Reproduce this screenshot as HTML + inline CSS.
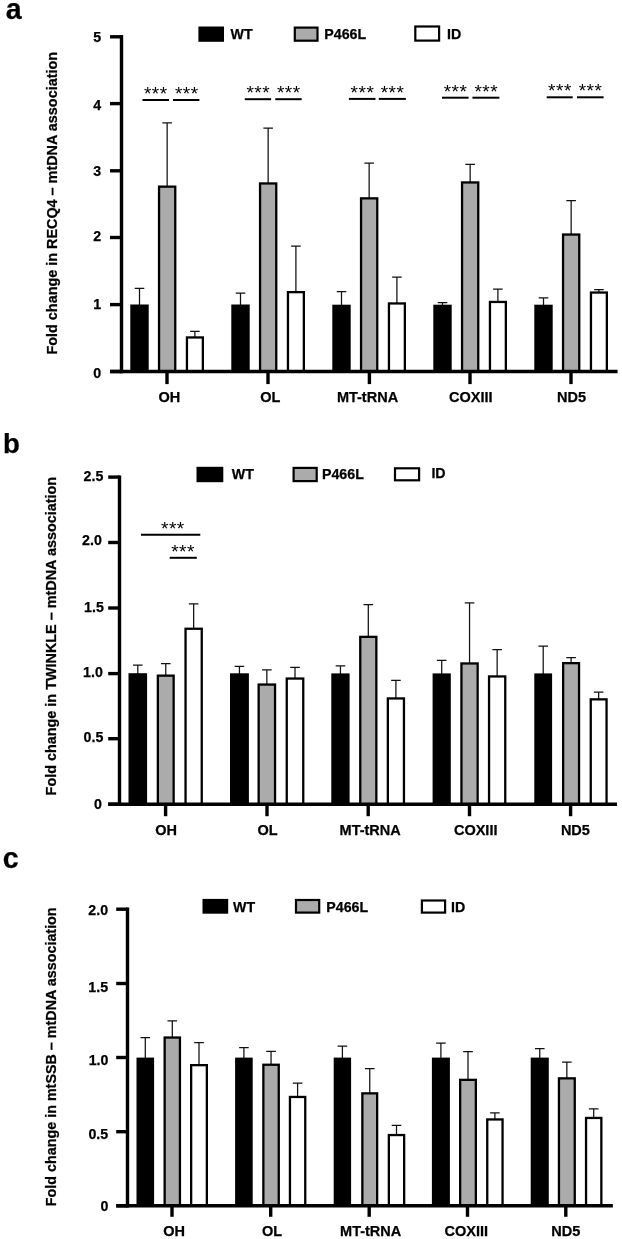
<!DOCTYPE html>
<html><head><meta charset="utf-8"><title>Figure</title>
<style>
html,body{margin:0;padding:0;background:#fff;}
svg{display:block;will-change:transform;}
text{font-family:"Liberation Sans",sans-serif;fill:#000;}
</style></head>
<body>
<svg width="622" height="1239" viewBox="0 0 622 1239">
<rect width="622" height="1239" fill="#fff"/>
<path d="M139.50 305.50V288.30M134.70 288.30H144.30" stroke="#111" stroke-width="1.25" fill="none"/>
<rect x="131.45" y="305.65" width="16.10" height="65.85" fill="#000" stroke="#000" stroke-width="2.3"/>
<path d="M167.15 186.50V122.90M162.35 122.90H171.95" stroke="#111" stroke-width="1.25" fill="none"/>
<rect x="159.05" y="186.65" width="16.20" height="184.85" fill="#ababab" stroke="#000" stroke-width="2.3"/>
<path d="M194.90 337.30V331.30M190.10 331.30H199.70" stroke="#111" stroke-width="1.25" fill="none"/>
<rect x="186.95" y="337.45" width="15.90" height="34.05" fill="#fff" stroke="#000" stroke-width="2.3"/>
<path d="M240.50 305.50V293.20M235.70 293.20H245.30" stroke="#111" stroke-width="1.25" fill="none"/>
<rect x="232.45" y="305.65" width="16.10" height="65.85" fill="#000" stroke="#000" stroke-width="2.3"/>
<path d="M268.15 183.30V128.20M263.35 128.20H272.95" stroke="#111" stroke-width="1.25" fill="none"/>
<rect x="260.05" y="183.45" width="16.20" height="188.05" fill="#ababab" stroke="#000" stroke-width="2.3"/>
<path d="M295.90 292.00V246.00M291.10 246.00H300.70" stroke="#111" stroke-width="1.25" fill="none"/>
<rect x="287.95" y="292.15" width="15.90" height="79.35" fill="#fff" stroke="#000" stroke-width="2.3"/>
<path d="M341.50 305.70V291.60M336.70 291.60H346.30" stroke="#111" stroke-width="1.25" fill="none"/>
<rect x="333.45" y="305.85" width="16.10" height="65.65" fill="#000" stroke="#000" stroke-width="2.3"/>
<path d="M369.15 198.20V163.00M364.35 163.00H373.95" stroke="#111" stroke-width="1.25" fill="none"/>
<rect x="361.05" y="198.35" width="16.20" height="173.15" fill="#ababab" stroke="#000" stroke-width="2.3"/>
<path d="M396.90 303.30V277.20M392.10 277.20H401.70" stroke="#111" stroke-width="1.25" fill="none"/>
<rect x="388.95" y="303.45" width="15.90" height="68.05" fill="#fff" stroke="#000" stroke-width="2.3"/>
<path d="M442.50 305.70V302.70M437.70 302.70H447.30" stroke="#111" stroke-width="1.25" fill="none"/>
<rect x="434.45" y="305.85" width="16.10" height="65.65" fill="#000" stroke="#000" stroke-width="2.3"/>
<path d="M470.15 182.30V164.40M465.35 164.40H474.95" stroke="#111" stroke-width="1.25" fill="none"/>
<rect x="462.05" y="182.45" width="16.20" height="189.05" fill="#ababab" stroke="#000" stroke-width="2.3"/>
<path d="M497.90 301.80V289.20M493.10 289.20H502.70" stroke="#111" stroke-width="1.25" fill="none"/>
<rect x="489.95" y="301.95" width="15.90" height="69.55" fill="#fff" stroke="#000" stroke-width="2.3"/>
<path d="M543.50 305.70V297.90M538.70 297.90H548.30" stroke="#111" stroke-width="1.25" fill="none"/>
<rect x="535.45" y="305.85" width="16.10" height="65.65" fill="#000" stroke="#000" stroke-width="2.3"/>
<path d="M571.15 234.40V200.50M566.35 200.50H575.95" stroke="#111" stroke-width="1.25" fill="none"/>
<rect x="563.05" y="234.55" width="16.20" height="136.95" fill="#ababab" stroke="#000" stroke-width="2.3"/>
<path d="M598.90 292.40V289.60M594.10 289.60H603.70" stroke="#111" stroke-width="1.25" fill="none"/>
<rect x="590.95" y="292.55" width="15.90" height="78.95" fill="#fff" stroke="#000" stroke-width="2.3"/>
<path d="M121.50 35.10V373.20" stroke="#000" stroke-width="3.4" fill="none"/>
<path d="M110.00 371.50H617.60" stroke="#000" stroke-width="3.4" fill="none"/>
<path d="M110.00 36.80H121.50" stroke="#000" stroke-width="3.4" fill="none"/>
<text x="101.20" y="42.40" font-size="14.2" font-weight="bold" text-anchor="end" stroke="#000" stroke-width="0.25" >5</text>
<path d="M110.00 103.60H121.50" stroke="#000" stroke-width="3.4" fill="none"/>
<text x="101.20" y="109.70" font-size="14.2" font-weight="bold" text-anchor="end" stroke="#000" stroke-width="0.25" >4</text>
<path d="M110.00 170.80H121.50" stroke="#000" stroke-width="3.4" fill="none"/>
<text x="101.20" y="175.70" font-size="14.2" font-weight="bold" text-anchor="end" stroke="#000" stroke-width="0.25" >3</text>
<path d="M110.00 237.50H121.50" stroke="#000" stroke-width="3.4" fill="none"/>
<text x="101.20" y="240.90" font-size="14.2" font-weight="bold" text-anchor="end" stroke="#000" stroke-width="0.25" >2</text>
<path d="M110.00 304.60H121.50" stroke="#000" stroke-width="3.4" fill="none"/>
<text x="101.20" y="309.30" font-size="14.2" font-weight="bold" text-anchor="end" stroke="#000" stroke-width="0.25" >1</text>
<path d="M110.00 371.50H121.50" stroke="#000" stroke-width="3.4" fill="none"/>
<text x="101.20" y="378.30" font-size="14.2" font-weight="bold" text-anchor="end" stroke="#000" stroke-width="0.25" >0</text>
<path d="M167.00 371.50V384.10" stroke="#000" stroke-width="3.4" fill="none"/>
<text x="169.30" y="402.00" font-size="14.5" font-weight="bold" text-anchor="middle" stroke="#000" stroke-width="0.25" >OH</text>
<path d="M268.00 371.50V384.10" stroke="#000" stroke-width="3.4" fill="none"/>
<text x="270.40" y="402.00" font-size="14.5" font-weight="bold" text-anchor="middle" stroke="#000" stroke-width="0.25" >OL</text>
<path d="M369.40 371.50V384.10" stroke="#000" stroke-width="3.4" fill="none"/>
<text x="367.50" y="402.00" font-size="14.5" font-weight="bold" text-anchor="middle" stroke="#000" stroke-width="0.25" >MT-tRNA</text>
<path d="M470.00 371.50V384.10" stroke="#000" stroke-width="3.4" fill="none"/>
<text x="470.80" y="402.00" font-size="14.5" font-weight="bold" text-anchor="middle" stroke="#000" stroke-width="0.25" >COXIII</text>
<path d="M571.00 371.50V384.10" stroke="#000" stroke-width="3.4" fill="none"/>
<text x="571.50" y="402.00" font-size="14.5" font-weight="bold" text-anchor="middle" stroke="#000" stroke-width="0.25" >ND5</text>
<text transform="translate(57.10,354.50) rotate(-90)" font-size="14.4" font-weight="bold" stroke="#000" stroke-width="0.25" text-anchor="start">Fold change in RECQ4 – mtDNA association</text>
<rect x="198.40" y="26.50" width="25.60" height="15.30" fill="#000"/>
<text x="230.50" y="39.30" font-size="14.2" font-weight="bold" text-anchor="start" stroke="#000" stroke-width="0.25" >WT</text>
<rect x="294.80" y="27.60" width="22.70" height="13.10" fill="#ababab" stroke="#000" stroke-width="2.2"/>
<text x="324.30" y="39.30" font-size="14.2" font-weight="bold" text-anchor="start" stroke="#000" stroke-width="0.25" >P466L</text>
<rect x="415.30" y="26.50" width="23.80" height="14.10" fill="#fff" stroke="#000" stroke-width="2.2"/>
<text x="447.00" y="39.30" font-size="14.2" font-weight="bold" text-anchor="start" stroke="#000" stroke-width="0.25" >ID</text>
<path d="M142.50 100.00H169.00" stroke="#000" stroke-width="2.0" fill="none"/>
<text x="155.75" y="99.90" font-size="19" font-weight="normal" text-anchor="middle" letter-spacing="0.5">***</text>
<path d="M173.00 100.00H199.40" stroke="#000" stroke-width="2.0" fill="none"/>
<text x="186.75" y="99.90" font-size="19" font-weight="normal" text-anchor="middle" letter-spacing="0.5">***</text>
<path d="M244.80 99.20H271.10" stroke="#000" stroke-width="2.0" fill="none"/>
<text x="258.25" y="99.10" font-size="19" font-weight="normal" text-anchor="middle" letter-spacing="0.5">***</text>
<path d="M275.30 99.20H301.70" stroke="#000" stroke-width="2.0" fill="none"/>
<text x="288.75" y="99.10" font-size="19" font-weight="normal" text-anchor="middle" letter-spacing="0.5">***</text>
<path d="M348.90 98.90H375.50" stroke="#000" stroke-width="2.0" fill="none"/>
<text x="362.45" y="98.80" font-size="19" font-weight="normal" text-anchor="middle" letter-spacing="0.5">***</text>
<path d="M378.80 98.90H405.90" stroke="#000" stroke-width="2.0" fill="none"/>
<text x="392.55" y="98.80" font-size="19" font-weight="normal" text-anchor="middle" letter-spacing="0.5">***</text>
<path d="M442.00 97.70H468.60" stroke="#000" stroke-width="2.0" fill="none"/>
<text x="455.55" y="97.60" font-size="19" font-weight="normal" text-anchor="middle" letter-spacing="0.5">***</text>
<path d="M472.40 97.70H499.40" stroke="#000" stroke-width="2.0" fill="none"/>
<text x="486.25" y="97.60" font-size="19" font-weight="normal" text-anchor="middle" letter-spacing="0.5">***</text>
<path d="M546.70 97.30H572.70" stroke="#000" stroke-width="2.0" fill="none"/>
<text x="559.95" y="97.20" font-size="19" font-weight="normal" text-anchor="middle" letter-spacing="0.5">***</text>
<path d="M577.00 97.30H603.60" stroke="#000" stroke-width="2.0" fill="none"/>
<text x="590.55" y="97.20" font-size="19" font-weight="normal" text-anchor="middle" letter-spacing="0.5">***</text>
<text x="5.80" y="18.80" font-size="28.6" font-weight="bold" text-anchor="start" stroke="#000" stroke-width="0.25" >a</text>
<path d="M137.80 674.20V665.00M133.00 665.00H142.60" stroke="#111" stroke-width="1.25" fill="none"/>
<rect x="129.65" y="674.35" width="16.30" height="129.85" fill="#000" stroke="#000" stroke-width="2.3"/>
<path d="M165.75 675.50V663.70M160.95 663.70H170.55" stroke="#111" stroke-width="1.25" fill="none"/>
<rect x="157.85" y="675.65" width="15.80" height="128.55" fill="#ababab" stroke="#000" stroke-width="2.3"/>
<path d="M193.65 628.60V603.90M188.85 603.90H198.45" stroke="#111" stroke-width="1.25" fill="none"/>
<rect x="185.55" y="628.75" width="16.20" height="175.45" fill="#fff" stroke="#000" stroke-width="2.3"/>
<path d="M239.45 674.30V666.30M234.65 666.30H244.25" stroke="#111" stroke-width="1.25" fill="none"/>
<rect x="231.15" y="674.45" width="16.60" height="129.75" fill="#000" stroke="#000" stroke-width="2.3"/>
<path d="M266.85 684.40V669.80M262.05 669.80H271.65" stroke="#111" stroke-width="1.25" fill="none"/>
<rect x="258.65" y="684.55" width="16.40" height="119.65" fill="#ababab" stroke="#000" stroke-width="2.3"/>
<path d="M295.00 678.40V667.30M290.20 667.30H299.80" stroke="#111" stroke-width="1.25" fill="none"/>
<rect x="286.75" y="678.55" width="16.50" height="125.65" fill="#fff" stroke="#000" stroke-width="2.3"/>
<path d="M340.45 674.40V665.80M335.65 665.80H345.25" stroke="#111" stroke-width="1.25" fill="none"/>
<rect x="332.45" y="674.55" width="16.00" height="129.65" fill="#000" stroke="#000" stroke-width="2.3"/>
<path d="M368.30 636.70V604.60M363.50 604.60H373.10" stroke="#111" stroke-width="1.25" fill="none"/>
<rect x="360.25" y="636.85" width="16.10" height="167.35" fill="#ababab" stroke="#000" stroke-width="2.3"/>
<path d="M395.90 698.30V680.30M391.10 680.30H400.70" stroke="#111" stroke-width="1.25" fill="none"/>
<rect x="387.85" y="698.45" width="16.10" height="105.75" fill="#fff" stroke="#000" stroke-width="2.3"/>
<path d="M441.70 674.40V660.30M436.90 660.30H446.50" stroke="#111" stroke-width="1.25" fill="none"/>
<rect x="433.75" y="674.55" width="15.90" height="129.65" fill="#000" stroke="#000" stroke-width="2.3"/>
<path d="M469.55 663.30V602.80M464.75 602.80H474.35" stroke="#111" stroke-width="1.25" fill="none"/>
<rect x="461.45" y="663.45" width="16.20" height="140.75" fill="#ababab" stroke="#000" stroke-width="2.3"/>
<path d="M497.15 676.30V649.70M492.35 649.70H501.95" stroke="#111" stroke-width="1.25" fill="none"/>
<rect x="489.05" y="676.45" width="16.20" height="127.75" fill="#fff" stroke="#000" stroke-width="2.3"/>
<path d="M543.20 674.40V646.20M538.40 646.20H548.00" stroke="#111" stroke-width="1.25" fill="none"/>
<rect x="535.45" y="674.55" width="15.50" height="129.65" fill="#000" stroke="#000" stroke-width="2.3"/>
<path d="M571.10 663.00V657.50M566.30 657.50H575.90" stroke="#111" stroke-width="1.25" fill="none"/>
<rect x="563.15" y="663.15" width="15.90" height="141.05" fill="#ababab" stroke="#000" stroke-width="2.3"/>
<path d="M598.65 699.20V692.10M593.85 692.10H603.45" stroke="#111" stroke-width="1.25" fill="none"/>
<rect x="590.75" y="699.35" width="15.80" height="104.85" fill="#fff" stroke="#000" stroke-width="2.3"/>
<path d="M119.50 475.40V805.90" stroke="#000" stroke-width="3.4" fill="none"/>
<path d="M108.20 804.20H617.00" stroke="#000" stroke-width="3.4" fill="none"/>
<path d="M108.20 477.10H119.50" stroke="#000" stroke-width="3.4" fill="none"/>
<text x="103.30" y="480.70" font-size="14.2" font-weight="bold" text-anchor="end" stroke="#000" stroke-width="0.25" >2.5</text>
<path d="M108.20 542.50H119.50" stroke="#000" stroke-width="3.4" fill="none"/>
<text x="101.80" y="544.90" font-size="14.2" font-weight="bold" text-anchor="end" stroke="#000" stroke-width="0.25" >2.0</text>
<path d="M108.20 608.00H119.50" stroke="#000" stroke-width="3.4" fill="none"/>
<text x="103.80" y="612.40" font-size="14.2" font-weight="bold" text-anchor="end" stroke="#000" stroke-width="0.25" >1.5</text>
<path d="M108.20 673.60H119.50" stroke="#000" stroke-width="3.4" fill="none"/>
<text x="102.80" y="676.80" font-size="14.2" font-weight="bold" text-anchor="end" stroke="#000" stroke-width="0.25" >1.0</text>
<path d="M108.20 738.70H119.50" stroke="#000" stroke-width="3.4" fill="none"/>
<text x="103.30" y="741.60" font-size="14.2" font-weight="bold" text-anchor="end" stroke="#000" stroke-width="0.25" >0.5</text>
<path d="M108.20 804.20H119.50" stroke="#000" stroke-width="3.4" fill="none"/>
<text x="101.80" y="808.70" font-size="14.2" font-weight="bold" text-anchor="end" stroke="#000" stroke-width="0.25" >0</text>
<path d="M165.60 804.20V816.20" stroke="#000" stroke-width="3.4" fill="none"/>
<text x="166.00" y="835.40" font-size="14.5" font-weight="bold" text-anchor="middle" stroke="#000" stroke-width="0.25" >OH</text>
<path d="M267.00 804.20V816.20" stroke="#000" stroke-width="3.4" fill="none"/>
<text x="267.50" y="835.40" font-size="14.5" font-weight="bold" text-anchor="middle" stroke="#000" stroke-width="0.25" >OL</text>
<path d="M368.20 804.20V816.20" stroke="#000" stroke-width="3.4" fill="none"/>
<text x="370.20" y="835.40" font-size="14.5" font-weight="bold" text-anchor="middle" stroke="#000" stroke-width="0.25" >MT-tRNA</text>
<path d="M469.50 804.20V816.20" stroke="#000" stroke-width="3.4" fill="none"/>
<text x="475.70" y="835.40" font-size="14.5" font-weight="bold" text-anchor="middle" stroke="#000" stroke-width="0.25" >COXIII</text>
<path d="M570.60 804.20V816.20" stroke="#000" stroke-width="3.4" fill="none"/>
<text x="575.40" y="835.40" font-size="14.5" font-weight="bold" text-anchor="middle" stroke="#000" stroke-width="0.25" >ND5</text>
<text transform="translate(55.60,795.40) rotate(-90)" font-size="14.4" font-weight="bold" stroke="#000" stroke-width="0.25" text-anchor="start">Fold change in TWINKLE – mtDNA association</text>
<rect x="196.50" y="466.80" width="26.80" height="15.40" fill="#000"/>
<text x="231.80" y="478.80" font-size="14.2" font-weight="bold" text-anchor="start" stroke="#000" stroke-width="0.25" >WT</text>
<rect x="293.60" y="467.90" width="23.10" height="13.20" fill="#ababab" stroke="#000" stroke-width="2.2"/>
<text x="322.00" y="478.80" font-size="14.2" font-weight="bold" text-anchor="start" stroke="#000" stroke-width="0.25" >P466L</text>
<rect x="395.00" y="468.30" width="24.10" height="12.00" fill="#fff" stroke="#000" stroke-width="2.2"/>
<text x="431.40" y="477.60" font-size="14.2" font-weight="bold" text-anchor="start" stroke="#000" stroke-width="0.25" >ID</text>
<path d="M141.00 534.70H200.30" stroke="#000" stroke-width="2.0" fill="none"/>
<text x="172.85" y="535.20" font-size="19" font-weight="normal" text-anchor="middle" letter-spacing="0.5">***</text>
<path d="M169.70 557.80H196.80" stroke="#000" stroke-width="2.0" fill="none"/>
<text x="183.05" y="557.90" font-size="19" font-weight="normal" text-anchor="middle" letter-spacing="0.5">***</text>
<text x="2.90" y="453.30" font-size="27.6" font-weight="bold" text-anchor="start" stroke="#000" stroke-width="0.25" >b</text>
<path d="M145.30 1058.60V1037.60M140.50 1037.60H150.10" stroke="#111" stroke-width="1.25" fill="none"/>
<rect x="137.65" y="1058.75" width="15.30" height="147.05" fill="#000" stroke="#000" stroke-width="2.3"/>
<path d="M172.30 1037.40V1020.90M167.50 1020.90H177.10" stroke="#111" stroke-width="1.25" fill="none"/>
<rect x="164.65" y="1037.55" width="15.30" height="168.25" fill="#ababab" stroke="#000" stroke-width="2.3"/>
<path d="M199.00 1065.00V1042.70M194.20 1042.70H203.80" stroke="#111" stroke-width="1.25" fill="none"/>
<rect x="191.15" y="1065.15" width="15.70" height="140.65" fill="#fff" stroke="#000" stroke-width="2.3"/>
<path d="M243.90 1058.60V1047.60M239.10 1047.60H248.70" stroke="#111" stroke-width="1.25" fill="none"/>
<rect x="236.25" y="1058.75" width="15.30" height="147.05" fill="#000" stroke="#000" stroke-width="2.3"/>
<path d="M271.05 1064.60V1051.40M266.25 1051.40H275.85" stroke="#111" stroke-width="1.25" fill="none"/>
<rect x="263.35" y="1064.75" width="15.40" height="141.05" fill="#ababab" stroke="#000" stroke-width="2.3"/>
<path d="M297.60 1096.80V1083.20M292.80 1083.20H302.40" stroke="#111" stroke-width="1.25" fill="none"/>
<rect x="289.95" y="1096.95" width="15.30" height="108.85" fill="#fff" stroke="#000" stroke-width="2.3"/>
<path d="M342.40 1058.60V1046.20M337.60 1046.20H347.20" stroke="#111" stroke-width="1.25" fill="none"/>
<rect x="334.85" y="1058.75" width="15.10" height="147.05" fill="#000" stroke="#000" stroke-width="2.3"/>
<path d="M369.75 1093.20V1068.70M364.95 1068.70H374.55" stroke="#111" stroke-width="1.25" fill="none"/>
<rect x="362.35" y="1093.35" width="14.80" height="112.45" fill="#ababab" stroke="#000" stroke-width="2.3"/>
<path d="M396.50 1134.90V1125.30M391.70 1125.30H401.30" stroke="#111" stroke-width="1.25" fill="none"/>
<rect x="388.85" y="1135.05" width="15.30" height="70.75" fill="#fff" stroke="#000" stroke-width="2.3"/>
<path d="M440.90 1058.60V1043.10M436.10 1043.10H445.70" stroke="#111" stroke-width="1.25" fill="none"/>
<rect x="433.05" y="1058.75" width="15.70" height="147.05" fill="#000" stroke="#000" stroke-width="2.3"/>
<path d="M468.00 1079.70V1051.60M463.20 1051.60H472.80" stroke="#111" stroke-width="1.25" fill="none"/>
<rect x="460.15" y="1079.85" width="15.70" height="125.95" fill="#ababab" stroke="#000" stroke-width="2.3"/>
<path d="M494.90 1119.30V1112.80M490.10 1112.80H499.70" stroke="#111" stroke-width="1.25" fill="none"/>
<rect x="487.25" y="1119.45" width="15.30" height="86.35" fill="#fff" stroke="#000" stroke-width="2.3"/>
<path d="M539.75 1058.60V1048.60M534.95 1048.60H544.55" stroke="#111" stroke-width="1.25" fill="none"/>
<rect x="531.85" y="1058.75" width="15.80" height="147.05" fill="#000" stroke="#000" stroke-width="2.3"/>
<path d="M566.85 1078.20V1062.10M562.05 1062.10H571.65" stroke="#111" stroke-width="1.25" fill="none"/>
<rect x="558.95" y="1078.35" width="15.80" height="127.45" fill="#ababab" stroke="#000" stroke-width="2.3"/>
<path d="M593.70 1117.80V1108.80M588.90 1108.80H598.50" stroke="#111" stroke-width="1.25" fill="none"/>
<rect x="586.05" y="1117.95" width="15.30" height="87.85" fill="#fff" stroke="#000" stroke-width="2.3"/>
<path d="M127.50 907.50V1207.50" stroke="#000" stroke-width="3.4" fill="none"/>
<path d="M116.20 1205.80H612.90" stroke="#000" stroke-width="3.4" fill="none"/>
<path d="M116.20 909.20H127.50" stroke="#000" stroke-width="3.4" fill="none"/>
<text x="108.10" y="914.80" font-size="14.2" font-weight="bold" text-anchor="end" stroke="#000" stroke-width="0.25" >2.0</text>
<path d="M116.20 983.50H127.50" stroke="#000" stroke-width="3.4" fill="none"/>
<text x="108.10" y="991.90" font-size="14.2" font-weight="bold" text-anchor="end" stroke="#000" stroke-width="0.25" >1.5</text>
<path d="M116.20 1057.50H127.50" stroke="#000" stroke-width="3.4" fill="none"/>
<text x="108.40" y="1064.60" font-size="14.2" font-weight="bold" text-anchor="end" stroke="#000" stroke-width="0.25" >1.0</text>
<path d="M116.20 1131.70H127.50" stroke="#000" stroke-width="3.4" fill="none"/>
<text x="108.20" y="1138.90" font-size="14.2" font-weight="bold" text-anchor="end" stroke="#000" stroke-width="0.25" >0.5</text>
<path d="M116.20 1205.80H127.50" stroke="#000" stroke-width="3.4" fill="none"/>
<text x="108.40" y="1211.30" font-size="14.2" font-weight="bold" text-anchor="end" stroke="#000" stroke-width="0.25" >0</text>
<path d="M172.00 1205.80V1216.80" stroke="#000" stroke-width="3.4" fill="none"/>
<text x="174.20" y="1235.80" font-size="14.5" font-weight="bold" text-anchor="middle" stroke="#000" stroke-width="0.25" >OH</text>
<path d="M270.70 1205.80V1216.80" stroke="#000" stroke-width="3.4" fill="none"/>
<text x="272.10" y="1235.80" font-size="14.5" font-weight="bold" text-anchor="middle" stroke="#000" stroke-width="0.25" >OL</text>
<path d="M369.20 1205.80V1216.80" stroke="#000" stroke-width="3.4" fill="none"/>
<text x="370.70" y="1235.80" font-size="14.5" font-weight="bold" text-anchor="middle" stroke="#000" stroke-width="0.25" >MT-tRNA</text>
<path d="M467.50 1205.80V1216.80" stroke="#000" stroke-width="3.4" fill="none"/>
<text x="466.30" y="1235.80" font-size="14.5" font-weight="bold" text-anchor="middle" stroke="#000" stroke-width="0.25" >COXIII</text>
<path d="M565.80 1205.80V1216.80" stroke="#000" stroke-width="3.4" fill="none"/>
<text x="565.80" y="1235.80" font-size="14.5" font-weight="bold" text-anchor="middle" stroke="#000" stroke-width="0.25" >ND5</text>
<text transform="translate(55.60,1206.20) rotate(-90)" font-size="14.33" font-weight="bold" stroke="#000" stroke-width="0.25" text-anchor="start">Fold change in mtSSB – mtDNA association</text>
<rect x="202.50" y="898.90" width="25.70" height="14.80" fill="#000"/>
<text x="233.00" y="911.70" font-size="14.2" font-weight="bold" text-anchor="start" stroke="#000" stroke-width="0.25" >WT</text>
<rect x="296.00" y="900.00" width="23.20" height="12.60" fill="#ababab" stroke="#000" stroke-width="2.2"/>
<text x="326.30" y="911.70" font-size="14.2" font-weight="bold" text-anchor="start" stroke="#000" stroke-width="0.25" >P466L</text>
<rect x="421.90" y="900.50" width="23.20" height="12.10" fill="#fff" stroke="#000" stroke-width="2.2"/>
<text x="451.00" y="911.70" font-size="14.2" font-weight="bold" text-anchor="start" stroke="#000" stroke-width="0.25" >ID</text>
<text x="2.80" y="868.30" font-size="28.6" font-weight="bold" text-anchor="start" stroke="#000" stroke-width="0.25" >c</text>
</svg>
</body></html>
